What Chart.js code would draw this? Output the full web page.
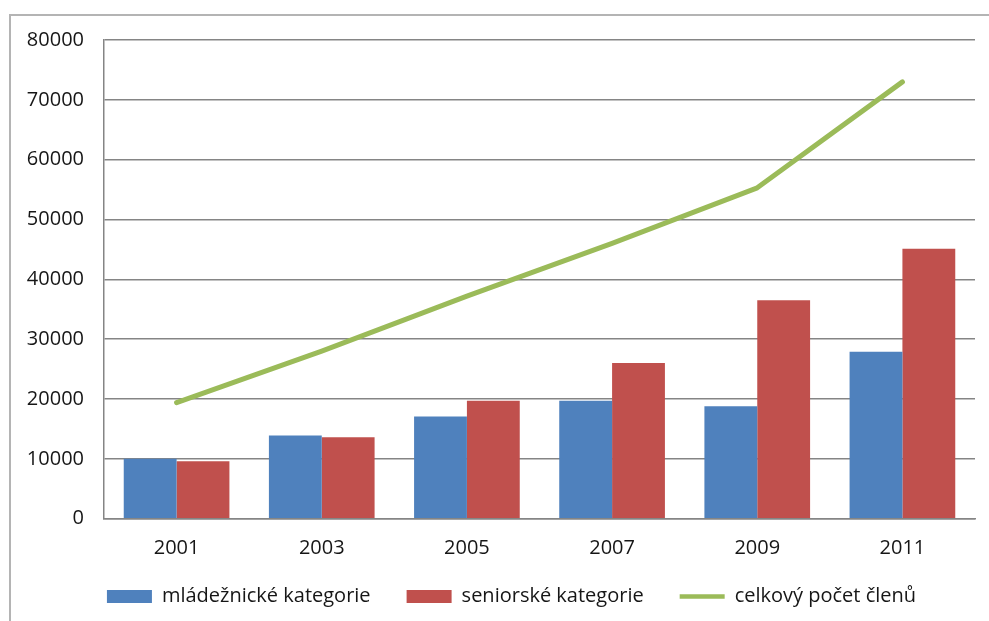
<!DOCTYPE html>
<html>
<head>
<meta charset="utf-8">
<script src="https://cdn.jsdelivr.net/npm/chart.js@4"></script>
<style>
  html, body { margin: 0; padding: 0; background: #fff; }
  #wrap { position: relative; width: 989px; height: 621px; }
  #frame { position: absolute; left: 9px; top: 14px; right: 0; bottom: 0; border-left: 2px solid #b4b4b4; border-top: 2px solid #b4b4b4; }
  canvas { position: absolute; left: 0; top: 0; }
</style>
</head>
<body>
<div id="wrap">
  <div id="frame"></div>
  <canvas id="c" width="989" height="621"></canvas>
</div>
<script>
const categories = ['2001', '2003', '2005', '2007', '2009', '2011'];
const youthValues = [10000, 13900, 17100, 19700, 18800, 27900];
const seniorValues = [9600, 13600, 19700, 26000, 36500, 45100];
const totalValues = [19400, 28000, 37200, 46000, 55300, 73000];
const seriesNames = ['mládežnické kategorie', 'seniorské kategorie', 'celkový počet členů'];
const yTicks = [0, 10000, 20000, 30000, 40000, 50000, 60000, 70000, 80000];

const FONT = '"Open Sans", Lato, sans-serif';
const TEXT = '#161616';
const FSIZE = 20;
const LEGEND_SHIFT_Y = 10;
const LEGEND_SHIFT_X = 5;

const legendShift = {
  id: 'legendShift',
  afterLayout(chart) {
    const lg = chart.legend;
    if (lg) {
      lg.top -= LEGEND_SHIFT_Y; lg.bottom -= LEGEND_SHIFT_Y;
      lg.left += LEGEND_SHIFT_X; lg.right += LEGEND_SHIFT_X;
    }
  }
};

new Chart(document.getElementById('c'), {
  type: 'bar',
  plugins: [legendShift],
  data: {
    labels: categories,
    datasets: [
      { label: seriesNames[0], data: youthValues, backgroundColor: '#4F81BD', borderWidth: 0, order: 1,
        categoryPercentage: 0.728, barPercentage: 1.0 },
      { label: seriesNames[1], data: seniorValues, backgroundColor: '#C0504D', borderWidth: 0, order: 1,
        categoryPercentage: 0.728, barPercentage: 1.0 },
      { type: 'line', label: seriesNames[2], data: totalValues, borderColor: '#9BBB59', backgroundColor: '#9BBB59',
        borderWidth: 5, pointRadius: 0, tension: 0, borderCapStyle: 'round', borderJoinStyle: 'round', order: 0 }
    ]
  },
  options: {
    responsive: false,
    animation: false,
    devicePixelRatio: 1,
    layout: { padding: { left: 24, right: 0, top: 40, bottom: -5.5 } },
    plugins: {
      tooltip: { enabled: false },
      legend: {
        position: 'bottom',
        labels: {
          usePointStyle: true,
          pointStyleWidth: 45,
          boxWidth: 45,
          boxHeight: 13,
          padding: 36,
          color: TEXT,
          font: { family: FONT, size: FSIZE, weight: '500' },
          sort: (a, b) => a.datasetIndex - b.datasetIndex,
          generateLabels: (chart) => {
            const items = Chart.defaults.plugins.legend.labels.generateLabels(chart);
            items.forEach(it => {
              const ds = chart.data.datasets[it.datasetIndex];
              if (ds.type === 'line') {
                it.pointStyle = 'line'; it.strokeStyle = '#9BBB59'; it.lineWidth = 4.5; it.lineCap = 'butt';
              } else {
                it.pointStyle = 'rect'; it.lineWidth = 0; it.strokeStyle = ds.backgroundColor;
              }
            });
            return items;
          }
        }
      }
    },
    scales: {
      x: {
        grid: { display: false, drawTicks: false },
        border: { display: true, color: '#858585', width: 1.5 },
        ticks: { color: TEXT, font: { family: FONT, size: FSIZE, weight: '500' }, padding: 18 },
        afterFit: (s) => { s.height = 41.8; }
      },
      y: {
        min: 0, max: 80000,
        afterBuildTicks: (s) => { s.ticks = yTicks.map(v => ({ value: v })); },
        afterFit: (s) => { s.width = 80; },
        grid: { color: '#858585', lineWidth: 1.5, drawTicks: false },
        border: { display: true, color: '#858585', width: 1.5 },
        ticks: { color: TEXT, font: { family: FONT, size: FSIZE, weight: '500' }, padding: 20, callback: (v) => String(v) }
      },
      yRight: {
        position: 'right',
        display: true,
        min: 0, max: 80000,
        grid: { display: false, drawTicks: false },
        border: { display: false },
        ticks: { display: false },
        afterFit: (s) => { s.width = 14; }
      }
    }
  }
});
</script>
</body>
</html>
